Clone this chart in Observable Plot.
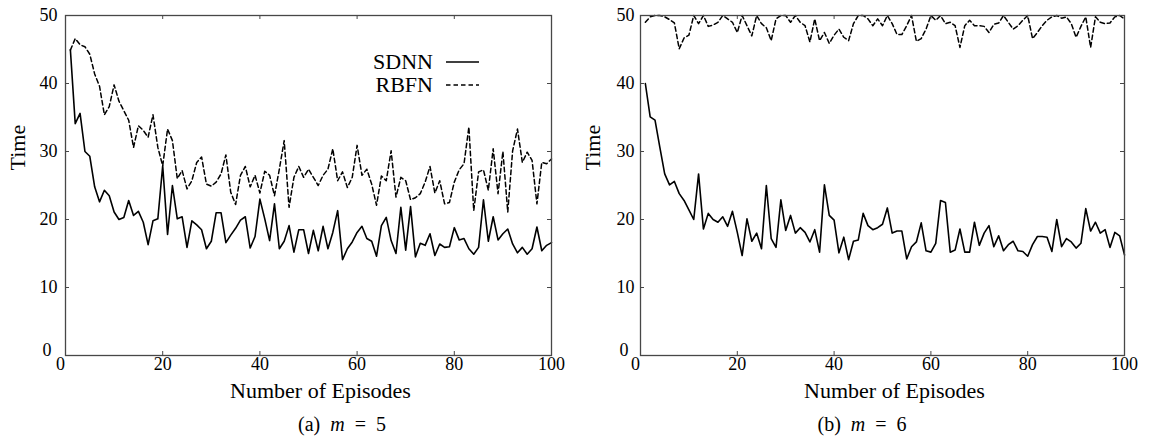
<!DOCTYPE html>
<html><head><meta charset="utf-8">
<script src="https://cdn.jsdelivr.net/npm/d3@7"></script>
<script src="https://cdn.jsdelivr.net/npm/@observablehq/plot@0.6"></script>
<style>
body{margin:0;background:#fff;}
#wrap{position:relative;width:1151px;height:441px;font-family:"Liberation Serif","Times New Roman",serif;color:#000;overflow:hidden;}
.panel{position:absolute;top:0;}
.cap{position:absolute;top:405px;height:36px;line-height:38px;font-size:20px;text-align:center;white-space:pre;}
.leg{position:absolute;font-size:22px;line-height:23px;text-align:right;}
.legsvg{position:absolute;}
</style></head>
<body><div id="wrap"></div>
<script>
const episodes = d3.range(1, 101);
const sdnnM5 = [45.0,34.1,35.6,30.0,29.3,24.8,22.6,24.3,23.5,21.1,20.0,20.3,22.8,20.6,21.2,19.6,16.3,19.8,20.1,27.9,
17.8,25.0,20.1,20.4,15.9,19.8,19.2,18.5,15.7,16.8,21.0,21.0,16.6,17.7,18.7,19.9,20.4,15.8,17.5,23.0,
20.1,16.9,22.3,15.7,16.8,19.1,15.2,18.5,18.5,15.0,18.4,15.4,19.0,15.7,18.1,21.3,14.1,15.7,16.7,18.1,
19.0,17.2,16.8,14.6,19.1,20.3,16.9,15.0,21.8,15.5,21.9,14.5,16.5,16.2,17.9,14.7,16.4,15.9,16.0,18.8,
17.0,17.2,15.7,14.9,15.9,22.9,16.8,20.4,17.0,17.9,18.6,16.4,15.1,15.9,14.9,15.7,18.9,15.4,16.2,16.6];
const rbfnM5 = [44.9,46.6,45.7,45.4,44.3,41.4,39.6,35.4,36.6,39.8,37.4,36.0,34.6,30.6,33.8,33.1,32.1,35.4,30.6,27.9,
33.3,31.6,26.0,27.2,24.5,25.7,28.4,29.2,25.2,24.9,25.5,26.7,29.5,24.0,22.2,26.5,27.8,24.8,26.5,23.9,
27.1,26.5,23.5,27.4,31.6,21.8,26.2,27.8,26.2,27.4,26.2,25.0,26.5,27.4,30.4,25.7,27.0,24.7,26.2,30.9,
26.5,27.4,25.2,22.1,26.4,25.7,30.1,23.3,26.2,25.7,22.9,23.2,23.8,25.5,27.8,23.9,25.7,22.3,22.5,25.5,
27.3,28.2,33.6,21.3,27.0,27.3,24.3,30.4,23.8,30.0,21.1,30.1,33.3,28.4,29.9,28.7,22.3,28.4,28.2,28.9];
const sdnnM6 = [40.0,35.1,34.6,30.6,26.7,25.1,25.6,23.8,22.8,21.4,20.0,26.7,18.6,20.9,20.0,19.6,20.4,19.0,21.2,18.1,
14.7,20.1,16.8,18.0,15.7,25.0,17.2,15.9,22.9,18.4,20.6,18.0,18.8,18.1,16.7,18.5,15.2,25.1,20.6,19.9,
15.1,17.4,14.1,16.8,17.0,20.9,19.1,18.5,18.8,19.3,21.7,18.0,18.3,18.3,14.2,16.0,16.7,19.5,15.4,15.2,
16.5,22.8,22.5,15.2,15.5,18.6,15.2,15.2,19.6,16.2,18.0,19.1,16.0,17.6,15.4,16.3,16.8,15.4,15.3,14.6,
16.3,17.5,17.5,17.4,15.3,20.0,16.0,17.2,16.7,15.8,16.5,21.6,18.3,19.6,18.0,18.5,15.9,18.1,17.6,14.8];
const rbfnM6 = [49.0,49.8,50,50,49.8,49.4,48.9,45.1,46.7,47.1,50,48.8,50,48.4,48.6,49.0,50,49.5,49.0,47.5,
50,48.5,47.0,50,48.8,48.2,46.3,49.5,50,50,49.0,50,49.0,48.5,46.1,49.5,46.3,47.5,45.9,47.1,
48.0,46.8,46.3,48.8,50,50,49.5,48.5,49.5,48.5,50,48.8,47.2,47.2,48.5,50,46.2,46.6,48.0,50,
49.3,50,48.8,49.0,48.5,45.3,48.5,49.3,48.5,48.5,48.4,47.5,48.7,48.9,50,49.0,48.0,48.5,49.3,50,
46.6,47.5,48.5,49.3,49.8,50,49.6,49.8,48.8,46.8,48.4,49.8,45.3,49.8,49.0,48.8,48.9,49.8,50,49.5];
const seriesNames = ["SDNN", "RBFN"];
const xTickLabels = [20, 40, 60, 80, 100];
const yTickLabels = [10, 20, 30, 40, 50];
const allXTicks = [0, 20, 40, 60, 80, 100];
const allYTicks = [0, 10, 20, 30, 40, 50];
const xLabel = "Number of Episodes";
const yLabel = "Time";

const FONT = "'Liberation Serif', 'Times New Roman', serif";
const H = 405, MT = 15, MB = 50;
const frameH = H - MT - MB;

function panel(sdnn, rbfn, width, ml, mr, yPad) {
  const data = episodes.map((e, i) => ({e, sdnn: sdnn[i], rbfn: rbfn[i]}));
  const plotW = width - ml - mr;
  const fc = "#474747";
  return Plot.plot({
    width, height: H, marginTop: MT, marginBottom: MB, marginLeft: ml, marginRight: mr,
    x: {domain: [0, 100]},
    y: {domain: [0, 50]},
    style: {fontFamily: FONT, background: "transparent", overflow: "visible", color: "#000"},
    marks: [
      Plot.line(data, {x: "e", y: "sdnn", stroke: "#000", strokeWidth: 1.6}),
      Plot.line(data, {x: "e", y: "rbfn", stroke: "#000", strokeWidth: 1.5, strokeDasharray: "4.5,3"}),
      Plot.ruleX(allXTicks, {x: d => d, stroke: fc, strokeWidth: 1, insetTop: frameH - 4}),
      Plot.ruleX(allXTicks, {x: d => d, stroke: fc, strokeWidth: 1, insetBottom: frameH - 4}),
      Plot.ruleY(allYTicks, {y: d => d, stroke: fc, strokeWidth: 1, insetRight: plotW - 4}),
      Plot.ruleY(allYTicks, {y: d => d, stroke: fc, strokeWidth: 1, insetLeft: plotW - 4}),
      Plot.frame({stroke: fc, strokeWidth: 1.3}),
      Plot.axisX(xTickLabels, {tickSize: 0, tickPadding: 2, fontSize: 18, label: null}),
      Plot.axisX([0], {tickSize: 0, tickPadding: 2, fontSize: 18, label: null, dx: -5}),
      Plot.axisY(yTickLabels, {tickSize: 0, tickPadding: yPad, fontSize: 18, label: null}),
      Plot.axisY([0], {tickSize: 0, tickPadding: yPad, fontSize: 18, label: null, dx: -6, dy: -5}),
      Plot.text([yLabel], {text: d => d, frameAnchor: "left", dx: -48, dy: -15, rotate: -90, fontSize: 22, fill: "#000"}),
      Plot.text([xLabel], {text: d => d, frameAnchor: "bottom", dx: 12, dy: 42, fontSize: 22, fill: "#000"})
    ]
  });
}

const wrap = document.getElementById("wrap");
const p1 = panel(sdnnM5, rbfnM5, 575, 65, 24, 8);
p1.classList.add("panel"); p1.style.left = "0px";
wrap.appendChild(p1);
const p2 = panel(sdnnM6, rbfnM6, 576, 65, 27, 6);
p2.classList.add("panel"); p2.style.left = "575px";
wrap.appendChild(p2);

function caption(letter, m, cx) {
  const d = document.createElement("div");
  d.className = "cap";
  d.style.left = (cx - 100) + "px";
  d.style.width = "200px";
  d.innerHTML = "(" + letter + ")&nbsp;&nbsp;<i>m</i>&nbsp;&nbsp;=&nbsp;&nbsp;" + m;
  wrap.appendChild(d);
}
caption("a", 5, 342);
caption("b", 6, 862);

const leg = document.createElement("div");
leg.className = "leg";
leg.style.left = "330px"; leg.style.top = "50px"; leg.style.width = "103px";
leg.innerHTML = seriesNames.join("<br>");
wrap.appendChild(leg);
const ns = "http://www.w3.org/2000/svg";
const ls = document.createElementNS(ns, "svg");
ls.setAttribute("class", "legsvg");
ls.setAttribute("width", "40"); ls.setAttribute("height", "40");
ls.style.left = "444px"; ls.style.top = "50px";
[[0, null], [1, "4.5,3"]].forEach(([i, dash]) => {
  const l = document.createElementNS(ns, "line");
  l.setAttribute("x1", 2); l.setAttribute("x2", 35);
  l.setAttribute("y1", 12 + i * 23); l.setAttribute("y2", 12 + i * 23);
  l.setAttribute("stroke", "#000"); l.setAttribute("stroke-width", 1.6);
  if (dash) l.setAttribute("stroke-dasharray", dash);
  ls.appendChild(l);
});
wrap.appendChild(ls);
</script>
</body></html>
